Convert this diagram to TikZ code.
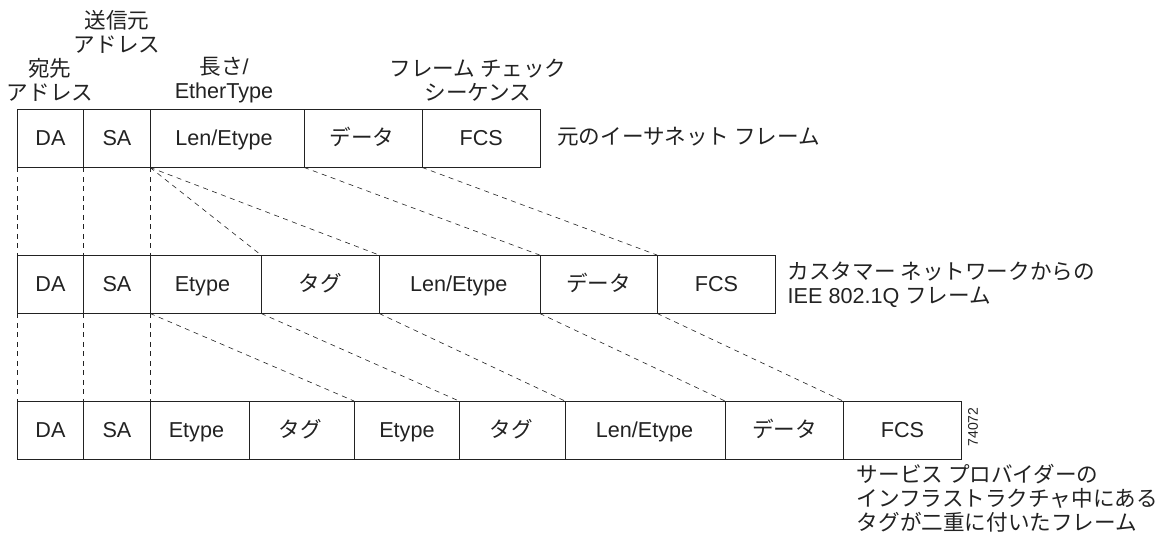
\documentclass[tikz,border=0pt]{standalone}
\usepackage{fontspec}
\setmainfont{Liberation Sans}
\newfontfamily\jp{Noto Sans CJK JP}
\definecolor{ink}{HTML}{222222}
\tikzset{
  cellbox/.style={draw=ink,line width=0.9pt,inner sep=0pt,minimum height=57.5pt,anchor=north west,font=\fontsize{21.6}{21.6}\selectfont,text=ink,text height=15.5pt,text depth=0pt},
  lbl/.style={inner sep=0pt,font=\fontsize{21.6}{24}\selectfont,text=ink,align=center},
  lbll/.style={lbl,align=left,anchor=west},
  guide/.style={draw=ink,line width=0.6pt,dash pattern=on 5pt off 4.5pt}
}
\newcommand{\cell}[5]{\node[cellbox,minimum width=#4 pt-#3 pt] (#1) at (#3,#2) {#5};}
\begin{document}
\begin{tikzpicture}[x=1pt,y=-1pt]
\useasboundingbox (0,0) rectangle (1176,536);
% row 1
\cell{aa}{109}{17}{83}{DA}
\cell{ab}{109}{83}{150}{SA}
\cell{ac}{109}{150}{304}{Len/Etype\hspace*{7pt}}
\cell{ad}{109}{304}{422}{\jp データ\hspace*{3pt}}
\cell{ae}{109}{422}{539.6}{FCS}
% row 2
\cell{ba}{255}{17}{83}{DA}
\cell{bb}{255}{83}{150}{SA}
\cell{bc}{255}{150}{261}{Etype\hspace*{7pt}}
\cell{bd}{255}{261}{379}{\jp タグ}
\cell{be}{255}{379}{539.6}{Len/Etype\hspace*{2pt}}
\cell{bf}{255}{539.6}{657}{\jp データ}
\cell{bg}{255}{657}{775}{FCS}
% row 3
\cell{ca}{401}{17}{83}{DA}
\cell{cb}{401}{83}{150}{SA}
\cell{cc}{401}{150}{249}{Etype\hspace*{7pt}}
\cell{cd}{401}{249}{354}{\jp タグ\hspace*{3pt}}
\cell{ce}{401}{354}{459}{Etype}
\cell{cf}{401}{459}{565}{\jp タグ\hspace*{2pt}}
\cell{cg}{401}{565}{725}{Len/Etype\hspace*{2pt}}
\cell{ch}{401}{725}{843}{\jp データ}
\cell{ci}{401}{843}{961}{FCS}
% connectors row 1 to row 2
\draw[guide] (aa.south west) -- (ba.north west);
\draw[guide] (ab.south west) -- (bb.north west);
\draw[guide] (ac.south west) -- (bc.north west);
\draw[guide] (ac.south west) -- (bd.north west);
\draw[guide] (ac.south west) -- (be.north west);
\draw[guide] (ad.south west) -- (bf.north west);
\draw[guide] (ae.south west) -- (bg.north west);
% connectors row 2 to row 3
\draw[guide] (ba.south west) -- (ca.north west);
\draw[guide] (bb.south west) -- (cb.north west);
\draw[guide] (bc.south west) -- (cc.north west);
\draw[guide] (bc.south west) -- (ce.north west);
\draw[guide] (bd.south west) -- (cf.north west);
\draw[guide] (be.south west) -- (cg.north west);
\draw[guide] (bf.south west) -- (ch.north west);
\draw[guide] (bg.south west) -- (ci.north west);
% labels
\node[lbl] (t1) at (117,32) {\jp 送信元\\\jp アドレス};
\node[lbl] (t2) at (50,80) {\jp 宛先\\\jp アドレス};
\node[lbl] (t3) at (224,80) {{\jp 長さ}/\\EtherType};
\node[lbl] (t4) at (478,80) {\jp フレーム チェック\\\jp シーケンス};
\node[lbll] (t5) at (557,137) {\jp 元のイーサネット フレーム};
\node[lbll] (t6) at (787.5,285) {\jp カスタマー ネットワークからの\\IEE 802.1Q {\jp フレーム}};
\node[lbll] (t7) at (856.6,498.5) {\jp サービス プロバイダーの\\\jp インフラストラクチャ中にある\\\jp タグが二重に付いたフレーム};
\node[inner sep=0pt,rotate=90,font=\fontsize{14}{14}\selectfont,text=ink] (t8) at (973,427) {74072};
\end{tikzpicture}
\end{document}
